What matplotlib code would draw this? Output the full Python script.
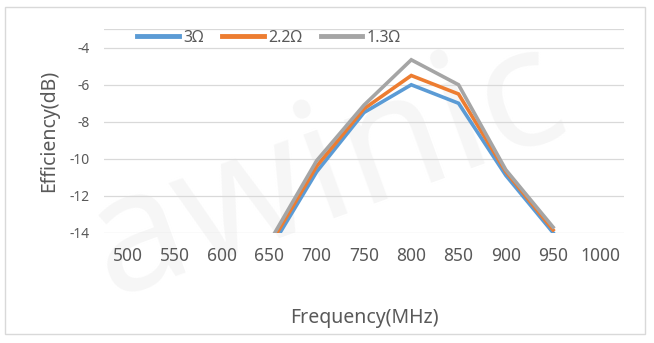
import matplotlib
matplotlib.use("Agg")
import matplotlib.pyplot as plt
from matplotlib.patches import Rectangle

plt.rcParams["font.family"] = ["Noto Sans", "DejaVu Sans"]

# --- data ---
freqs = [500, 550, 600, 650, 700, 750, 800, 850, 900, 950, 1000]
series_names = ["3Ω", "2.2Ω", "1.3Ω"]
eff_3 = [None, None, None, -14.95, -10.7, -7.5, -6.0, -7.0, -10.9, -14.0, None]
eff_22 = [None, None, None, -14.7, -10.4, -7.3, -5.5, -6.5, -10.7, -13.85, None]
eff_13 = [None, None, None, -14.5, -10.1, -7.1, -4.65, -6.0, -10.6, -13.7, None]
y_ticks = [-14, -12, -10, -8, -6, -4]

COLORS = ["#5B9BD5", "#ED7D31", "#A5A5A5"]
TXT = "#595959"
GRID = "#D9D9D9"

fig = plt.figure(figsize=(6.54, 3.43), dpi=100)
fig.patch.set_facecolor("white")

# outer chart frame
fig.patches.append(Rectangle((5 / 654, 1 - 334 / 343), 640 / 654, 327 / 343,
                             transform=fig.transFigure, fill=False,
                             edgecolor=GRID, lw=1.0))

# faint background watermark, kept behind the axes
wm = fig.text(0.5, 0.5, "awinic", fontsize=120, color="#F6F6F6",
              rotation=20, ha="center", va="center")
wm.set_zorder(-5)

ax = fig.add_axes([104 / 654, 1 - 232.7 / 343, 520 / 654, 203.4 / 343])
ax.set_zorder(1)
ax.patch.set_alpha(0)

x = list(range(len(freqs)))
for vals, name, c in zip([eff_3, eff_22, eff_13], series_names, COLORS):
    xs = [i for i, v in zip(x, vals) if v is not None]
    ys = [v for v in vals if v is not None]
    ax.plot(xs, ys, color=c, lw=2.6, label=name, solid_joinstyle="miter",
            zorder=3)

ax.set_xlim(-0.5, len(freqs) - 0.5)
ax.set_ylim(-14, -3)
ax.set_yticks(y_ticks)
ax.set_yticklabels([str(t) for t in y_ticks], fontsize=10, color=TXT)
ax.set_xticks(x)
ax.set_xticklabels([str(f) for f in freqs], fontsize=12.5, color=TXT)
ax.tick_params(axis="y", length=0, pad=10)
ax.tick_params(axis="x", length=0, pad=10)

for s in ax.spines.values():
    s.set_visible(False)
for yv in y_ticks + [-3]:
    ax.axhline(yv, color=GRID, lw=0.9, zorder=1)

ax.set_xlabel("Frequency(MHz)", fontsize=14, color=TXT, labelpad=31)
ax.set_ylabel("Efficiency(dB)", fontsize=14, color=TXT, labelpad=8)

leg = ax.legend(loc="center", bbox_to_anchor=(0.317, 0.957), ncol=3,
                frameon=False, fontsize=11.5, handlelength=2.6,
                handletextpad=0.25, columnspacing=1.2, labelcolor=TXT,
                borderpad=0)
for h in leg.get_lines():
    h.set_linewidth(3.5)

fig.savefig("out.png", dpi=100, facecolor="white")
